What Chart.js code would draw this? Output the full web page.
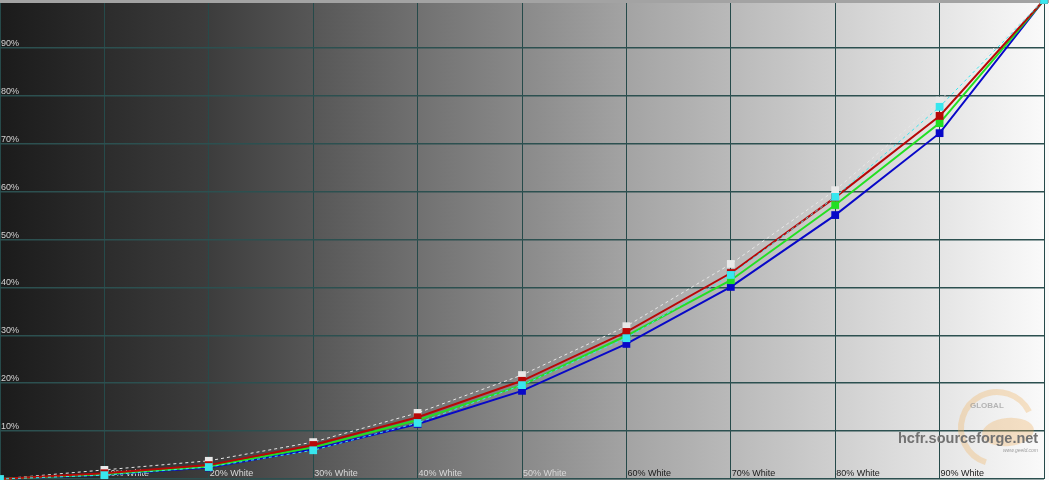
<!DOCTYPE html>
<html>
<head>
<meta charset="utf-8">
<script src="https://cdn.jsdelivr.net/npm/chart.js@4"></script>
<style>
  html, body { margin: 0; padding: 0; background: #fff; }
  #gammaChart { display: block; }
</style>
</head>
<body>
<canvas id="gammaChart" width="1049" height="480"></canvas>
<script>
// stimulus levels (% white) and measured output (% of max luminance)
const levels = [0, 10, 20, 30, 40, 50, 60, 70, 80, 90, 100];
const levelLabels = ["", "10% White", "20% White", "30% White", "40% White", "50% White",
  "60% White", "70% White", "80% White", "90% White", ""];
const yTickLabels = ["10%", "20%", "30%", "40%", "50%", "60%", "70%", "80%", "90%"];

const reference = [0, 1.9, 3.8, 7.7, 13.8, 21.7, 31.9, 44.9, 60.3, 79.0, 100];
const redLevels = [0, 1.2, 2.9, 7.1, 12.9, 20.5, 30.7, 43.0, 58.8, 75.8, 100];
const greenLevels = [0, 1.0, 2.6, 6.6, 12.3, 19.6, 29.9, 41.5, 57.2, 74.3, 100];
const blueLevels = [0, 0.9, 2.4, 6.2, 11.5, 18.4, 28.2, 40.1, 55.1, 72.2, 100];
const luminance = [0, 0.8, 2.5, 6.0, 11.7, 19.6, 29.4, 42.6, 58.9, 77.7, 100];

function toPoints(values) {
  return levels.map((lv, i) => ({ x: lv, y: values[i] }));
}

const backdrop = {
  id: "backdrop",
  beforeDraw(chart) {
    const { ctx, width, height } = chart;
    const grad = ctx.createLinearGradient(0, 0, width, 0);
    grad.addColorStop(0, "#1b1b1b");
    grad.addColorStop(0.2, "#3d3d3d");
    grad.addColorStop(0.4, "#717171");
    grad.addColorStop(0.5, "#8a8a8a");
    grad.addColorStop(0.6, "#a4a4a4");
    grad.addColorStop(0.8, "#d0d0d0");
    grad.addColorStop(1, "#fbfbfb");
    ctx.save();
    ctx.fillStyle = grad;
    ctx.fillRect(0, 0, width, height);
    ctx.restore();
  },
  beforeDatasetsDraw(chart) {
    const { ctx, scales } = chart;
    ctx.save();
    ctx.font = "9px 'Liberation Sans', Arial, sans-serif";
    ctx.textBaseline = "alphabetic";
    ctx.textAlign = "left";
    // y labels sit just above each grid line
    yTickLabels.forEach((txt, i) => {
      const y = scales.y.getPixelForValue((i + 1) * 10);
      ctx.fillStyle = "#d4d4d4";
      ctx.fillText(txt, 1, y - 2);
    });
    // x labels along the bottom
    levelLabels.forEach((txt, i) => {
      if (!txt) return;
      const x = scales.x.getPixelForValue(levels[i]);
      ctx.fillStyle = levels[i] <= 50 ? "#d8d8d8" : "#1a1a1a";
      ctx.fillText(txt, x + 1, 476);
    });
    // watermark
    ctx.strokeStyle = "rgba(240, 180, 100, 0.35)";
    ctx.lineWidth = 6;
    ctx.beginPath();
    ctx.arc(997, 428, 36, Math.PI * 0.6, Math.PI * 1.85);
    ctx.stroke();
    ctx.fillStyle = "rgba(140, 140, 140, 0.6)";
    ctx.font = "bold 8px 'Liberation Sans', Arial, sans-serif";
    ctx.fillText("GLOBAL", 970, 408);
    ctx.fillStyle = "rgba(240, 170, 80, 0.3)";
    ctx.beginPath();
    ctx.ellipse(1008, 432, 26, 14, -0.1, 0, Math.PI * 2);
    ctx.fill();
    ctx.fillStyle = "#727272";
    ctx.font = "bold 14.5px 'Liberation Sans', Arial, sans-serif";
    ctx.fillText("hcfr.sourceforge.net", 898, 443);
    ctx.fillStyle = "#a0a0a0";
    ctx.font = "italic 5px 'Liberation Sans', Arial, sans-serif";
    ctx.fillText("www.geeld.com", 1003, 452);
    // top border
    ctx.fillStyle = "#a3a3a3";
    ctx.fillRect(0, 0, chart.width, 3);
    ctx.restore();
  }
};

function series(label, values, color, opts) {
  return Object.assign({
    label: label,
    data: toPoints(values),
    borderColor: color,
    backgroundColor: color,
    borderWidth: 2,
    pointStyle: "rect",
    pointRadius: 5.5,
    pointBorderWidth: 0,
    tension: 0,
    clip: false,
  }, opts);
}

new Chart(document.getElementById("gammaChart"), {
  type: "line",
  data: {
    datasets: [
      series("Luminance", luminance, "#38e6ee", { borderWidth: 1, borderDash: [3, 3], order: 0 }),
      series("Red", redLevels, "#b80808", { order: 1 }),
      series("Green", greenLevels, "#22e022", { order: 2 }),
      series("Blue", blueLevels, "#0808c8", { order: 3 }),
      series("Reference", reference, "#e8e8e8", { borderWidth: 1, borderDash: [3, 3], order: 4 }),
    ],
  },
  options: {
    responsive: false,
    animation: false,
    layout: { autoPadding: false, padding: { left: 0, right: 5, top: 0, bottom: 1 } },
    plugins: { legend: { display: false }, tooltip: { enabled: false } },
    scales: {
      x: {
        type: "linear",
        min: 0,
        max: 100,
        ticks: { display: false, stepSize: 10 },
        grid: { color: "#264a4a", lineWidth: 1, drawTicks: false },
        border: { display: false },
      },
      y: {
        min: 0,
        max: 100,
        ticks: { display: false, stepSize: 10 },
        grid: { color: "#2c5050", lineWidth: 1.5, drawTicks: false },
        border: { display: false },
      },
    },
  },
  plugins: [backdrop],
});
</script>
</body>
</html>
